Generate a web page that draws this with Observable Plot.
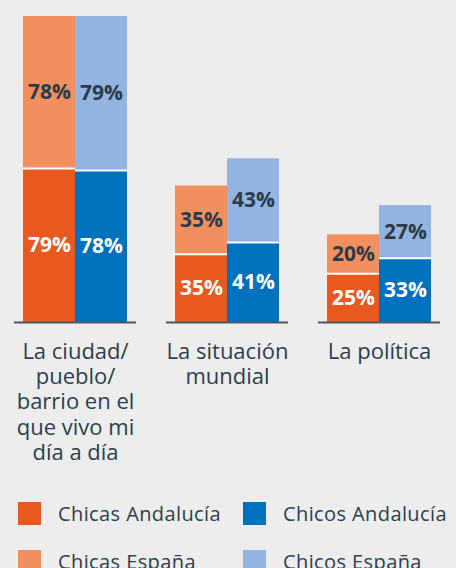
<!DOCTYPE html>
<html>
<head>
<meta charset="utf-8">
<script src="https://cdn.jsdelivr.net/npm/d3@7"></script>
<script src="https://cdn.jsdelivr.net/npm/@observablehq/plot@0.6"></script>
<style>
  html, body { margin: 0; padding: 0; background: #ededed; }
  #chart { width: 456px; }
  .legend { position: relative; height: 80px; font-family: "Open Sans", sans-serif; font-size: 20px; letter-spacing: 0.4px; color: #2c3e50; }
  .legend .item { position: absolute; display: flex; align-items: center; }
  .legend .sw { width: 23px; height: 23px; margin-right: 17px; flex: none; }
</style>
</head>
<body>
<div id="chart"></div>
<script>
// Topics (one facet each) and their wrapped labels
const groups = ["La ciudad/pueblo/barrio en el que vivo mi día a día", "La situación mundial", "La política"];
const groupLabels = ["La ciudad/\npueblo/\nbarrio en el\nque vivo mi\ndía a día", "La situación\nmundial", "La política"];

// Percentages per series, in topic order
const chicasAndalucia = [79, 35, 25];
const chicasEspana = [78, 35, 20];
const chicosAndalucia = [78, 41, 33];
const chicosEspana = [79, 43, 27];

const seriesNames = ["Chicas Andalucía", "Chicos Andalucía", "Chicas España", "Chicos España"];
const seriesColors = ["#e8591f", "#0071bc", "#f18f5f", "#93b3e0"];
const sexes = ["Chicas", "Chicos"];

// Long table: Andalucía rows first so they sit at the bottom of each stack
const rows = [];
groups.forEach((g, i) => {
  rows.push({group: g, sex: "Chicas", series: "Chicas Andalucía", value: chicasAndalucia[i]});
  rows.push({group: g, sex: "Chicas", series: "Chicas España", value: chicasEspana[i]});
  rows.push({group: g, sex: "Chicos", series: "Chicos Andalucía", value: chicosAndalucia[i]});
  rows.push({group: g, sex: "Chicos", series: "Chicos España", value: chicosEspana[i]});
});
const isAndalucia = d => d.series.endsWith("Andalucía");
const pct = d => `${d.value}%`;

const H = 488;
const chart = Plot.plot({
  width: 456,
  height: H,
  marginTop: 16,
  marginBottom: H - 322,
  marginLeft: 13,
  marginRight: 16,
  style: {background: "transparent", fontFamily: "Open Sans, sans-serif"},
  fx: {domain: groups, paddingInner: 0.2, paddingOuter: 0, axis: null},
  x: {domain: sexes, paddingInner: 0, paddingOuter: 0.151, axis: null},
  y: {domain: [0, 157], axis: null},
  color: {domain: seriesNames, range: seriesColors},
  marks: [
    Plot.barY(rows, Plot.stackY({fx: "group", x: "sex", y: "value", fill: "series"})),
    // white seam between the Andalucía and España segments
    Plot.tickY(rows.filter(isAndalucia), {fx: "group", x: "sex", y: "value", stroke: "white", strokeWidth: 2}),
    Plot.ruleY([0], {stroke: "#4b5866", strokeWidth: 2}),
    Plot.text(rows, Plot.filter(isAndalucia, Plot.stackY({
      fx: "group", x: "sex", y: "value", text: pct,
      fill: "white", fontSize: 21, fontWeight: "bold"
    }))),
    Plot.text(rows, Plot.filter(d => !isAndalucia(d), Plot.stackY({
      fx: "group", x: "sex", y: "value", text: pct,
      fill: "#2b3b4c", fontSize: 21, fontWeight: "bold"
    }))),
    Plot.text(groups, {
      fx: d => d, y: 0, text: (d, i) => groupLabels[i],
      lineAnchor: "top", dy: 19, lineHeight: 1.14,
      fontSize: 22, fill: "#2c3e50", letterSpacing: "0.5px"
    })
  ]
});
document.getElementById("chart").append(chart);

// Legend below the plot: two columns, Andalucía row first
const legend = document.createElement("div");
legend.className = "legend";
const pos = [[18, 12], [243, 12], [18, 60], [243, 60]];
seriesNames.forEach((name, i) => {
  const item = document.createElement("div");
  item.className = "item";
  item.style.left = pos[i][0] + "px";
  item.style.top = pos[i][1] + "px";
  const sw = document.createElement("span");
  sw.className = "sw";
  sw.style.background = seriesColors[i];
  const label = document.createElement("span");
  label.textContent = name;
  item.append(sw, label);
  legend.append(item);
});
document.body.append(legend);
</script>
</body>
</html>
